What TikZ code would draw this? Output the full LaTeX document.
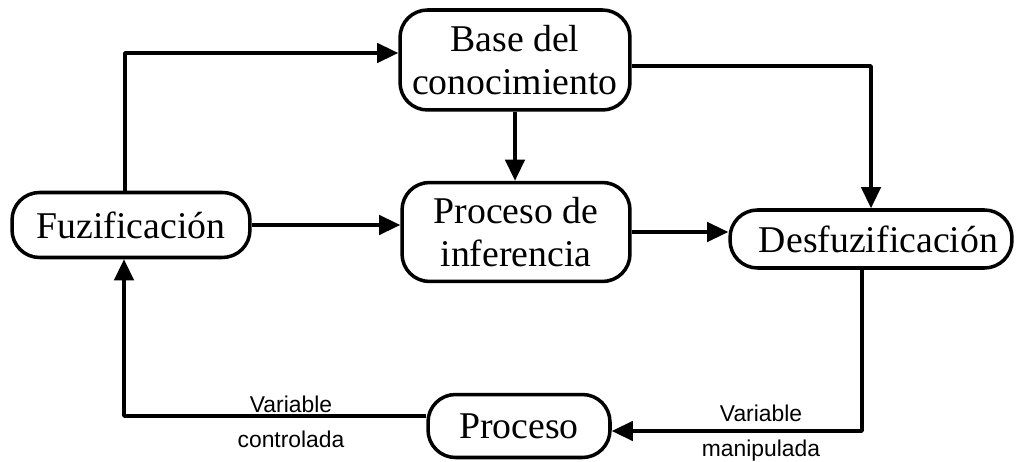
\documentclass[tikz,border=0pt]{standalone}
\usepackage{fontspec}
\setmainfont{Liberation Serif}
\setsansfont{Liberation Sans}
\usetikzlibrary{arrows.meta}

\begin{document}
\begin{tikzpicture}[x=0.02cm,y=-0.02cm,line width=2pt,line join=round]
	\tikzstyle{caja}=[draw,rounded corners=0.55cm,align=center,inner sep=2pt,font=\fontsize{21.5}{24}\selectfont];
	\tikzstyle{flecha}=[-{Triangle[length=12pt,width=11pt]}];
	\tikzstyle{etiqueta}=[align=center,inner sep=0pt,font=\sffamily\fontsize{13}{20}\selectfont];

	\useasboundingbox (0,0) rectangle (1016,462);

	\node[caja,minimum width=4.6cm,minimum height=2cm] (base) at (515,60) {Base del\\conocimiento};
	\node[caja,minimum width=4.56cm,minimum height=1.98cm] (inf) at (516,232) {Proceso de\\inferencia};
	\node[caja,minimum width=4.76cm,minimum height=1.3cm] (fuz) at (131,225) {Fuzificación};
	\node[caja,minimum width=5.64cm,minimum height=1.16cm] (desf) at (871,239) {\hspace{0.3cm}Desfuzificación};
	\node[caja,minimum width=3.64cm,minimum height=1.26cm] (proc) at (519,426) {Proceso};

	\node[etiqueta] (vc) at (291,422) {Variable\\controlada};
	\node[etiqueta] (vm) at (761,433) {Variable\\manipulada};

	\draw[flecha] ([xshift=-0.12cm]fuz.north) |- ([yshift=0.14cm]base.west);
	\draw[flecha] ([yshift=-0.12cm]base.east) -| (desf.north);
	\draw[flecha] (base.south) -- (base.south |- inf.north);
	\draw[flecha] (fuz.east) -- (fuz.east -| inf.west);
	\draw[flecha] (inf.east) -- (inf.east -| desf.west);
	\draw[flecha] ([xshift=-0.18cm]desf.south) |- ([yshift=-0.1cm]proc.east);
	\draw[flecha] ([yshift=0.2cm]proc.west) -| ([xshift=-0.14cm]fuz.south);
\end{tikzpicture}
\end{document}
